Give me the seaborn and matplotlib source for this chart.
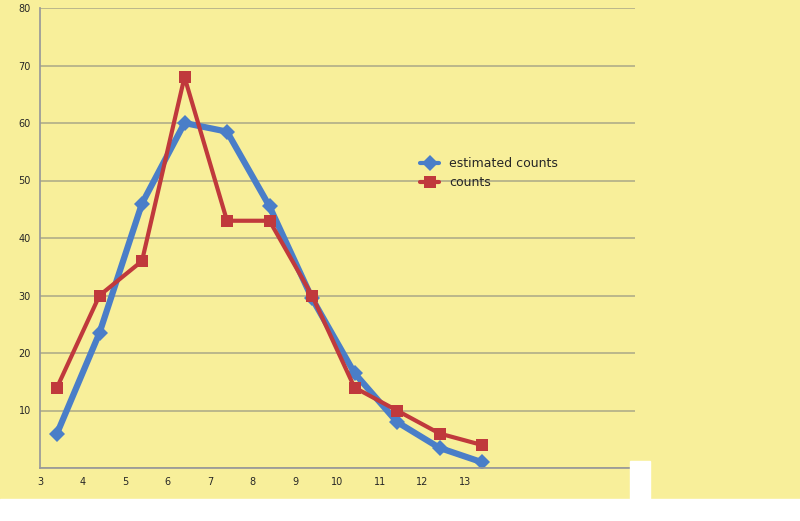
import matplotlib
matplotlib.use("Agg")
import matplotlib.pyplot as plt
import seaborn as sns
import pandas as pd
from matplotlib.patches import Rectangle

# data
bins = [3, 4, 5, 6, 7, 8, 9, 10, 11, 12, 13]
x_pos = [b + 0.4 for b in bins]
estimated_counts = [6, 23.5, 46, 60, 58.5, 45.5, 29.5, 16.5, 8, 3.5, 1]
counts = [14, 30, 36, 68, 43, 43, 30, 14, 10, 6, 4]

df = pd.DataFrame({"x": x_pos * 2,
                   "y": estimated_counts + counts,
                   "series": ["estimated counts"] * len(bins) + ["counts"] * len(bins)})

sns.set_theme(style="white")
plt.rcParams['font.family'] = ['DejaVu Sans']
bg = "#f8ef9a"
fig = plt.figure(figsize=(8, 5.21), dpi=100, facecolor=bg)
fig.patches.append(Rectangle((0, 0), 1, 22 / 521, transform=fig.transFigure, color="white", zorder=0))
fig.patches.append(Rectangle((630 / 800, 0), 20 / 800, 60 / 521, transform=fig.transFigure, color="white", zorder=0))

ax = fig.add_axes([40 / 800, 53 / 521, 595 / 800, 460 / 521])
ax.set_facecolor(bg)
sns.lineplot(data=df, x="x", y="y", hue="series", style="series",
             palette={"estimated counts": "#4a7ec8", "counts": "#c0393c"},
             markers={"estimated counts": "D", "counts": "s"}, dashes=False,
             linewidth=3, markersize=8, markeredgewidth=0, ax=ax)
ax.lines[0].set_linewidth(4.5)

ax.set_ylim(0, 80)
ax.set_xlim(3.15, 17.0)
ax.set_yticks(range(0, 81, 10))
ax.set_yticklabels([""] + [str(v) for v in range(10, 81, 10)], fontsize=7)
ax.set_xticks(bins)
ax.set_xticklabels([str(b) for b in bins], fontsize=7)
ax.yaxis.grid(True, color="#b0ad88", linewidth=1.2)
for s in ["top", "right"]:
    ax.spines[s].set_visible(False)
ax.spines["left"].set_color("#999")
ax.spines["bottom"].set_color("#999")
ax.tick_params(axis="both", length=3, color="#999")
ax.set_xlabel("")
ax.set_ylabel("")
ax.legend(title=None, frameon=False, loc="upper left",
          bbox_to_anchor=(0.62, 0.7), fontsize=9, handlelength=1.5)

fig.savefig("out.png", dpi=100, facecolor=bg)
